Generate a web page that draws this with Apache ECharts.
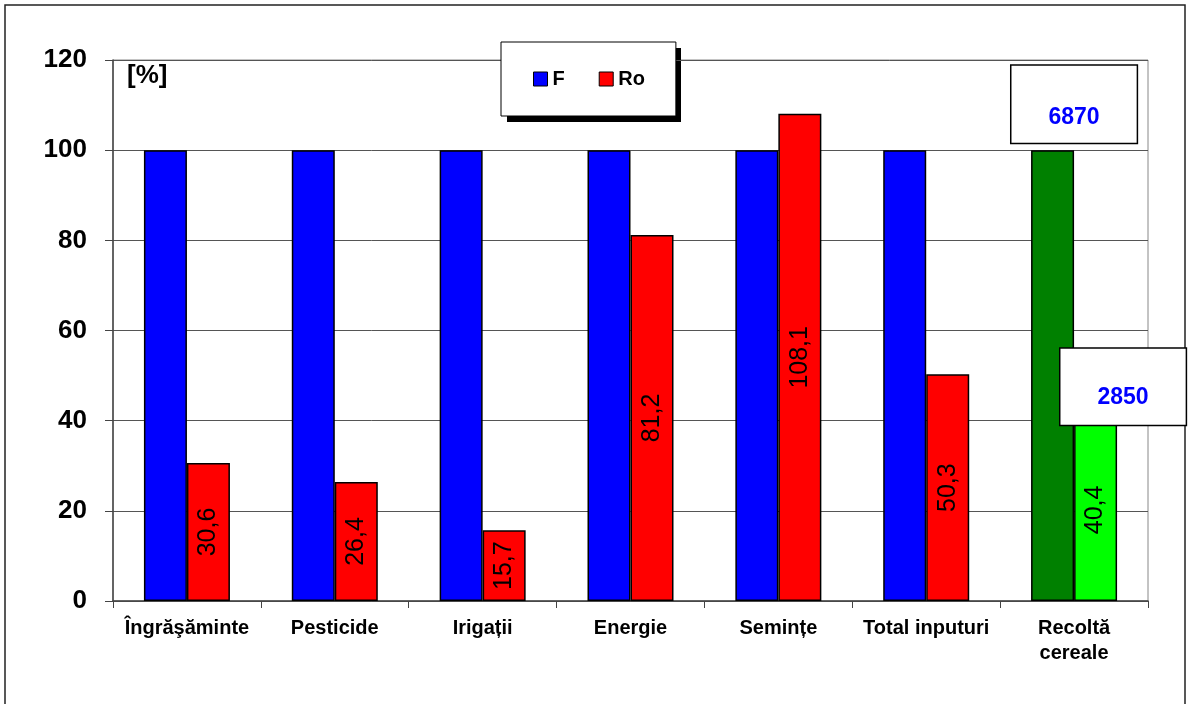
<!DOCTYPE html>
<html>
<head>
    <meta charset="utf-8">
    <title>ECharts</title>
    <script src="https://cdn.jsdelivr.net/npm/echarts/dist/echarts.min.js"></script>
</head>
<body style="margin:0">
    <div id="main" style="width: 1188px;height:704px;"></div>
    <script>
        // chart data
        var categories = ['Îngrăşăminte', 'Pesticide', 'Irigații', 'Energie', 'Semințe', 'Total inputuri', 'Recoltă\ncereale'];
        var valuesF = [100, 100, 100, 100, 100, 100, 100];
        var valuesRo = [30.6, 26.4, 15.7, 81.2, 108.1, 50.3, 40.4];
        var harvest = [6870, 2850]; // F, Ro
        var yTicks = [0, 20, 40, 60, 80, 100, 120];

        var font = 'Liberation Sans, Arial, sans-serif';
        var last = categories.length - 1;

        var dataF = valuesF.map(function (v, i) {
            return i === last ? { value: v, itemStyle: { color: '#008000' } } : v;
        });
        var dataRo = valuesRo.map(function (v, i) {
            return i === last ? { value: v, itemStyle: { color: '#00ff00' } } : v;
        });

        // boxed yield label, text sits in the lower part of the box
        function boxLabel(offset, gap, padBottom) {
            return {
                show: true,
                position: 'inside',
                offset: offset,
                backgroundColor: '#fff',
                borderColor: '#000',
                borderWidth: 1.5,
                padding: [10, 37, padBottom, 37],
                formatter: function (p) { return '{g| }\n{n|' + p.value[2] + '}'; },
                rich: {
                    g: { height: gap, lineHeight: gap, fontSize: 10 },
                    n: {
                        color: '#0000ff',
                        fontWeight: 'bold',
                        fontSize: 23,
                        lineHeight: 23,
                        fontFamily: font
                    }
                }
            };
        }

        var myChart = echarts.init(document.getElementById('main'));
        var option = {
            animation: false,
            backgroundColor: '#fff',
            graphic: [
                {
                    type: 'rect',
                    shape: { x: 5, y: 5, width: 1180, height: 712 },
                    style: { fill: 'none', stroke: '#222', lineWidth: 1.5 },
                    z: -1
                },
                {
                    // legend drop shadow
                    type: 'rect',
                    shape: { x: 507, y: 48, width: 174, height: 74 },
                    style: { fill: '#000' },
                    z: 0
                }
            ],
            legend: {
                data: ['F', 'Ro'],
                left: 501,
                top: 42,
                orient: 'horizontal',
                icon: 'rect',
                itemWidth: 14,
                itemHeight: 14,
                itemGap: 34,
                padding: [27, 31, 27, 32],
                backgroundColor: '#fff',
                borderColor: '#000',
                borderWidth: 1,
                z: 5,
                itemStyle: { borderColor: '#000', borderWidth: 1 },
                textStyle: { fontFamily: font, fontWeight: 'bold', fontSize: 20, color: '#000' }
            },
            grid: {
                left: 113,
                right: 40,
                top: 60,
                bottom: 103,
                show: true,
                borderColor: '#888',
                borderWidth: 1
            },
            xAxis: {
                type: 'category',
                data: categories,
                axisLine: { lineStyle: { color: '#444', width: 1.5 } },
                axisTick: { show: true, length: 7, lineStyle: { color: '#444' } },
                axisLabel: {
                    color: '#000',
                    fontFamily: font,
                    fontWeight: 'bold',
                    fontSize: 20,
                    lineHeight: 25,
                    margin: 15,
                    interval: 0
                }
            },
            yAxis: {
                type: 'value',
                min: yTicks[0],
                max: yTicks[yTicks.length - 1],
                interval: 20,
                name: '[%]',
                nameLocation: 'end',
                nameGap: -3,
                nameTextStyle: {
                    fontFamily: font,
                    fontWeight: 'bold',
                    fontSize: 26,
                    color: '#000',
                    align: 'left',
                    verticalAlign: 'top',
                    padding: [0, 0, 0, 14]
                },
                axisLine: { show: true, lineStyle: { color: '#444', width: 1.5 } },
                axisTick: { show: true, length: 8, lineStyle: { color: '#444' } },
                axisLabel: {
                    color: '#000',
                    fontFamily: font,
                    fontWeight: 'bold',
                    fontSize: 26,
                    margin: 26
                },
                splitLine: { lineStyle: { color: '#555', width: 1 } }
            },
            series: [
                {
                    name: 'F',
                    type: 'bar',
                    barWidth: 43,
                    barGap: '0%',
                    data: dataF,
                    itemStyle: { color: '#0000ff', borderColor: '#000', borderWidth: 1.5 }
                },
                {
                    name: 'Ro',
                    type: 'bar',
                    barWidth: 43,
                    data: dataRo,
                    itemStyle: { color: '#ff0000', borderColor: '#000', borderWidth: 1.5 },
                    label: {
                        show: true,
                        position: 'inside',
                        rotate: 90,
                        color: '#000',
                        fontFamily: font,
                        fontSize: 25,
                        formatter: function (p) { return String(p.value).replace('.', ','); }
                    }
                },
                {
                    name: 'recolta',
                    type: 'scatter',
                    symbolSize: 1,
                    itemStyle: { color: 'rgba(0,0,0,0)', opacity: 1 },
                    emphasis: { disabled: true },
                    z: 10,
                    data: [
                        {
                            value: [last, valuesF[last], harvest[0]],
                            label: boxLabel([0, -46], 30, 14)
                        },
                        {
                            value: [last, valuesRo[last], harvest[1]],
                            label: boxLabel([49, -32], 27, 16)
                        }
                    ]
                }
            ]
        };

        myChart.setOption(option);
    </script>
</body>
</html>
